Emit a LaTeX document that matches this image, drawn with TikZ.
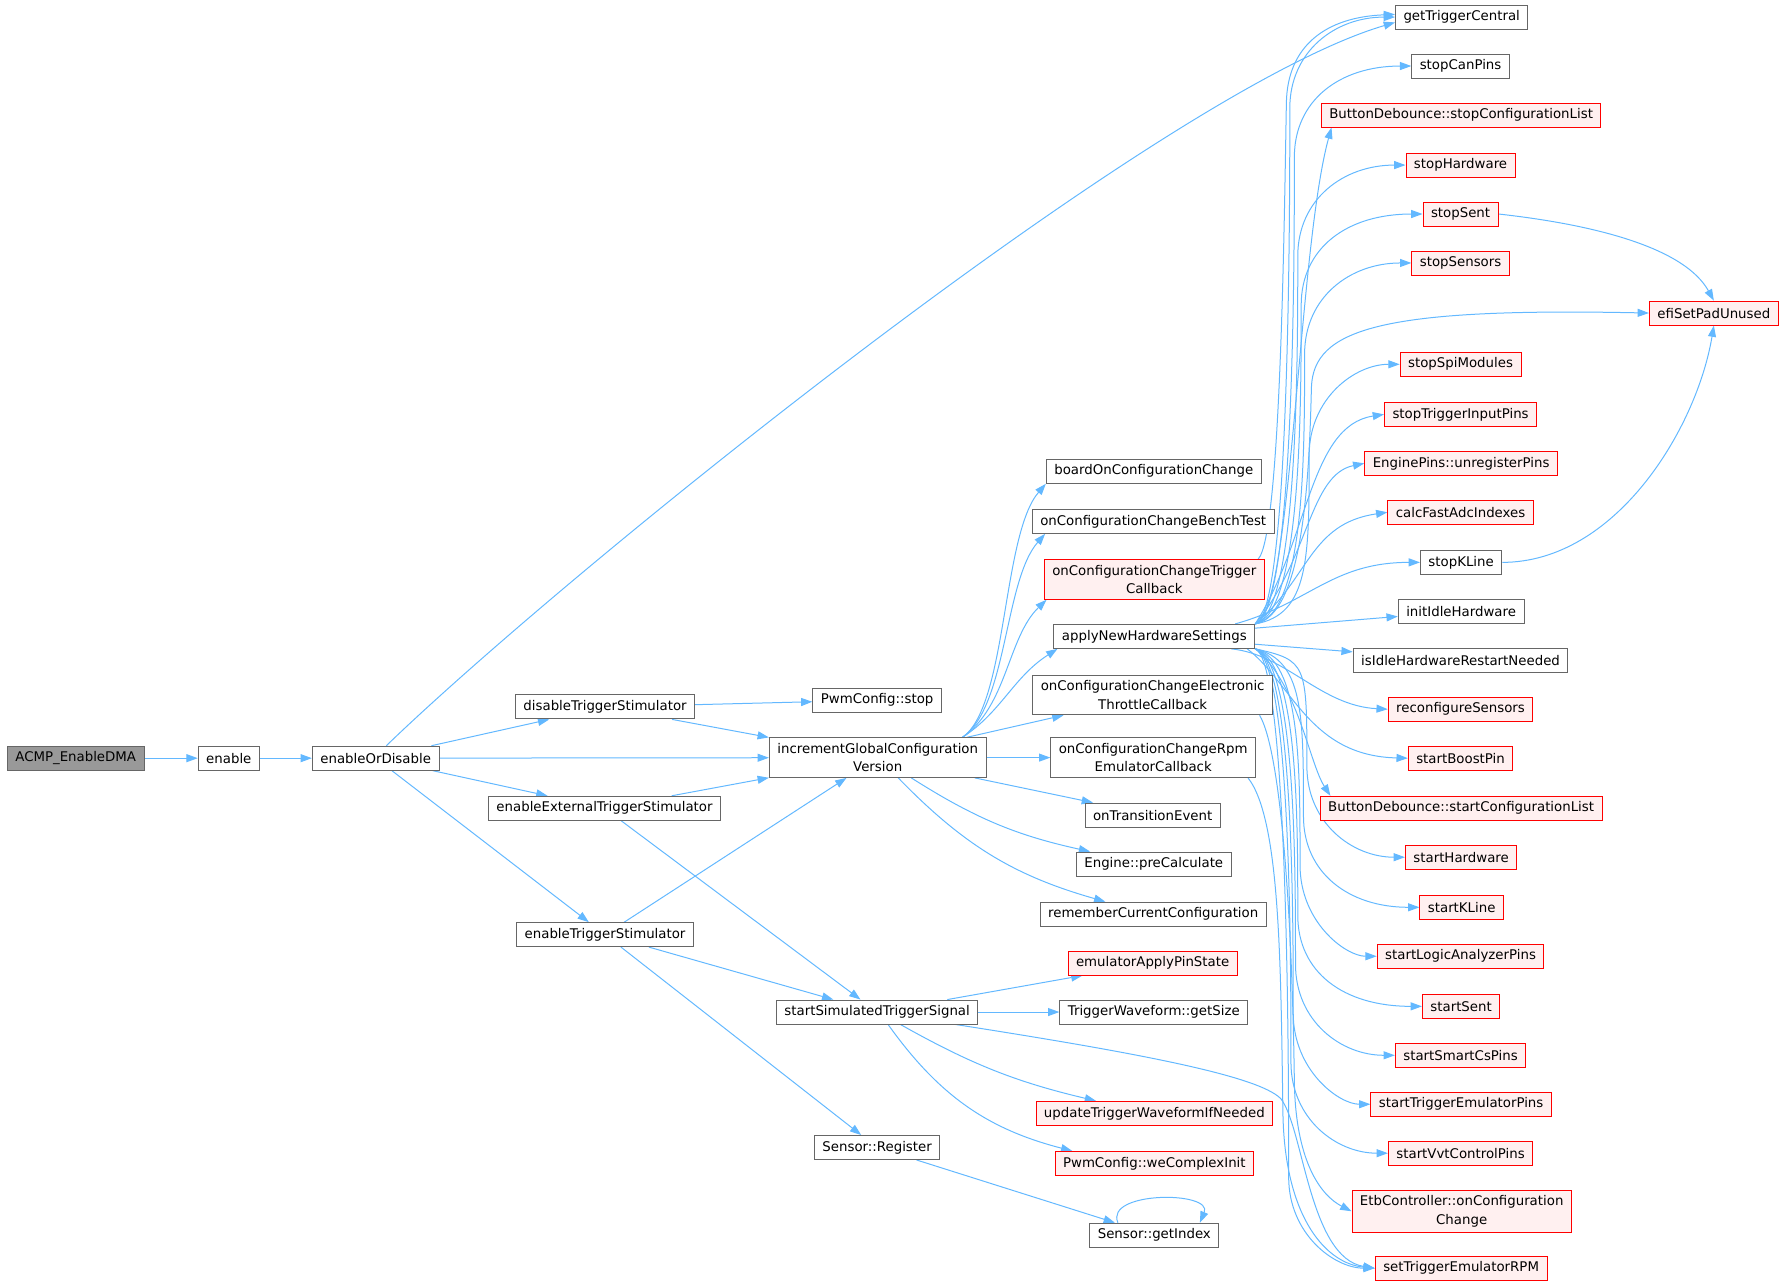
\documentclass[tikz,border=0pt]{standalone}
\usepackage{fontspec}
\setmainfont{DejaVu Sans}
\usetikzlibrary{arrows.meta,calc,backgrounds}
\definecolor{edgeblue}{RGB}{99,184,255}
\definecolor{nodegray}{RGB}{102,102,102}
\definecolor{rootgray}{RGB}{153,153,153}
\definecolor{redfill}{RGB}{255,240,240}

\begin{document}
\begin{tikzpicture}[
  x=0.854pt, y=-0.854pt,
  fn/.style={
    rectangle,
    draw=nodegray,
    fill=white,
    line width=0.7pt,
    inner xsep=6pt,
    inner ysep=4pt,
    minimum height=18pt,
    align=center,
    font=\fontsize{10}{14}\selectfont
  },
  fnred/.style={fn, draw=red, fill=redfill},
  fnroot/.style={fn, fill=rootgray},
  call/.style={draw=edgeblue, line width=0.75pt, -{Triangle[length=8.5pt,width=6pt]}}]
  \useasboundingbox (0,0) rectangle (1568,1131);
  % callers
  \node[fnroot] (acmp) at (66.5,666) {ACMP\_EnableDMA};
  \node[fn] (enable) at (201,666) {enable};
  \node[fn] (eod) at (330,666) {enableOrDisable};
  \node[fn] (dts) at (531.5,621) {disableTriggerStimulator};
  \node[fn] (eets) at (531,710) {enableExternalTriggerStimulator};
  \node[fn] (ets) at (531.5,821) {enableTriggerStimulator};
  \node[fn] (pwmstop) at (770.5,615) {PwmConfig::stop};
  \node[fn] (igcv) at (771,665.5) {incrementGlobalConfiguration\\Version};
  \node[fn] (sstsig) at (770.5,889) {startSimulatedTriggerSignal};
  \node[fn] (sreg) at (770.5,1008) {Sensor::Register};
  % second level
  \node[fn] (boardocc) at (1013.5,414) {boardOnConfigurationChange};
  \node[fn] (occbench) at (1013,458) {onConfigurationChangeBenchTest};
  \node[fnred] (occtrig) at (1014,509) {onConfigurationChangeTrigger\\Callback};
  \node[fn] (anhs) at (1014,559) {applyNewHardwareSettings};
  \node[fn] (occetc) at (1012.5,610.5) {onConfigurationChangeElectronic\\ThrottleCallback};
  \node[fn] (occrpm) at (1013,665.5) {onConfigurationChangeRpm\\EmulatorCallback};
  \node[fn] (ontrans) at (1012.5,716) {onTransitionEvent};
  \node[fn] (precalc) at (1013.5,759) {Engine::preCalculate};
  \node[fn] (rememb) at (1013,803) {rememberCurrentConfiguration};
  \node[fnred] (emuapply) at (1012.5,846) {emulatorApplyPinState};
  \node[fn] (twsize) at (1013.5,889) {TriggerWaveform::getSize};
  \node[fnred] (utwin) at (1014,978) {updateTriggerWaveformIfNeeded};
  \node[fnred] (wecinit) at (1014,1022) {PwmConfig::weComplexInit};
  \node[fn] (sgidx) at (1014,1085) {Sensor::getIndex};
  % hardware settings callees
  \node[fn] (gtc) at (1284,15) {getTriggerCentral};
  \node[fn] (scp) at (1283,58) {stopCanPins};
  \node[fnred] (bdstop) at (1283.5,101) {ButtonDebounce::stopConfigurationList};
  \node[fnred] (sthw) at (1283,145) {stopHardware};
  \node[fnred] (ssent) at (1283,188) {stopSent};
  \node[fnred] (ssens) at (1283,231) {stopSensors};
  \node[fnred] (sspi) at (1283,320) {stopSpiModules};
  \node[fnred] (stip) at (1283,364) {stopTriggerInputPins};
  \node[fnred] (epu) at (1283.5,407) {EnginePins::unregisterPins};
  \node[fnred] (cfai) at (1283,450) {calcFastAdcIndexes};
  \node[fn] (skl) at (1283.5,494) {stopKLine};
  \node[fn] (iih) at (1283.5,537) {initIdleHardware};
  \node[fn] (iihrn) at (1283,580) {isIdleHardwareRestartNeeded};
  \node[fnred] (recsens) at (1283,623) {reconfigureSensors};
  \node[fnred] (sbp) at (1283,666) {startBoostPin};
  \node[fnred] (bdstart) at (1283.5,710) {ButtonDebounce::startConfigurationList};
  \node[fnred] (sthwst) at (1283.5,753) {startHardware};
  \node[fnred] (sklst) at (1284,797) {startKLine};
  \node[fnred] (slap) at (1283,840) {startLogicAnalyzerPins};
  \node[fnred] (sstart) at (1283.5,884) {startSent};
  \node[fnred] (scsp) at (1283,927) {startSmartCsPins};
  \node[fnred] (stemp) at (1283.5,970) {startTriggerEmulatorPins};
  \node[fnred] (svvt) at (1283,1013) {startVvtControlPins};
  \node[fnred] (etbocc) at (1284,1064) {EtbController::onConfiguration\\Change};
  \node[fnred] (stemrpm) at (1283.5,1114) {setTriggerEmulatorRPM};
  \node[fnred] (efi) at (1505.5,275) {efiSetPadUnused};

  \begin{pgfonlayer}{background}
  % first levels
  \draw[call] (acmp) -- (enable);
  \draw[call] (enable) -- (eod);
  \draw[call] (eod) -- (dts);
  \draw[call] (eod) -- (igcv);
  \draw[call] (eod) -- (eets);
  \draw[call] (eod) -- (ets);
  \draw[call] ([xshift=8pt]eod.north) .. controls (500,500) and (1020,80) .. ([yshift=-4pt]gtc.west);
  \draw[call] (dts) -- (pwmstop);
  \draw[call] (dts) -- (igcv);
  \draw[call] (eets) -- (igcv);
  \draw[call] (eets) -- (sstsig);
  \draw[call] (ets) -- (igcv);
  \draw[call] (ets) -- (sstsig);
  \draw[call] (ets) -- (sreg);
  % configuration version
  \draw[call] ([xshift=-18pt]igcv.north east) .. controls (885,620) and (880,470) .. (boardocc.south west);
  \draw[call] ([xshift=-18pt]igcv.north east) .. controls (885,620) and (882,510) .. ([xshift=10pt]occbench.south west);
  \draw[call] ([xshift=-18pt]igcv.north east) .. controls (885,620) and (885,560) .. ([xshift=2pt]occtrig.south west);
  \draw[call] ([xshift=-18pt]igcv.north east) .. controls (880,625) and (890,595) .. ([xshift=3pt]anhs.south west);
  \draw[call] (igcv) -- (occetc);
  \draw[call] (igcv) -- (occrpm);
  \draw[call] (igcv) -- (ontrans);
  \draw[call] (igcv) to[bend right=10] (precalc);
  \draw[call] (igcv) to[bend right=15] (rememb);
  \draw[call] ([xshift=-5pt]occtrig.north east) .. controls (1125,470) and (1128,200) .. (1130,90) .. controls (1131,40) and (1165,15) .. ([yshift=2pt]gtc.west);
  \draw[call] ([xshift=-10pt]occetc.south east) .. controls (1125,660) and (1135,800) .. (1137,950) .. controls (1138,1020) and (1160,1050) .. (etbocc.west);
  \draw[call] ([xshift=-6pt]occrpm.south east) .. controls (1125,720) and (1125,850) .. (1127,980) .. controls (1129,1070) and (1165,1110) .. (stemrpm.west);
  % simulated trigger
  \draw[call] (sstsig) -- (emuapply);
  \draw[call] (sstsig) -- (twsize);
  \draw[call] (sstsig) to[bend right=8] (utwin);
  \draw[call] (sstsig) to[bend right=20] (wecinit);
  \draw[call] ([xshift=-17pt]sstsig.south east) .. controls (1000,925) and (1105,945) .. (1125,965) .. controls (1145,990) and (1150,1105) .. (stemrpm.west);
  \draw[call] (sreg) -- (sgidx);
  \draw[call] ($(sgidx.north)+(-32,0)$) .. controls +(-12,-28) and +(12,-28) .. ($(sgidx.north)+(40,0)$);
  % hardware settings
  \foreach \t/\y/\lx in {gtc/15/1133, scp/58/1137, sthw/145/1140, ssent/188/1143, ssens/231/1146, sspi/320/1150}
    \draw[call] (anhs.north east) .. controls (\lx,540) and (\lx,{\y+170}) .. (\lx,{\y+80}) .. controls (\lx,{\y+30}) and ({\lx+40},\y) .. (\t.west);
  \foreach \t/\y in {stip/364, epu/407, cfai/450}
    \draw[call] (anhs.north east) .. controls (1150,{548-0.4*(548-\y)}) and (1150,\y+10) .. (\t.west);
  \draw[call] (anhs.north east) .. controls (1135,540) and (1140,220) .. ([xshift=8pt]bdstop.south west);
  \draw[call] (anhs.north east) .. controls (1145,540) and (1150,420) .. (1152,340) .. controls (1154,290) and (1210,270) .. (efi.west);
  \draw[call] ([xshift=-15pt]anhs.north east) .. controls (1150,530) and (1170,494) .. (skl.west);
  \draw[call] (anhs) -- (iih);
  \draw[call] (anhs) -- (iihrn);
  \draw[call] ([xshift=-18pt]anhs.south east) .. controls (1130,575) and (1160,620) .. (recsens.west);
  \draw[call] ([xshift=-6pt]anhs.south east) .. controls (1135,600) and (1150,664) .. (sbp.west);
  \draw[call] (anhs.south east) .. controls (1140,600) and (1150,670) .. ([xshift=8pt]bdstart.north west);
  \foreach \t/\y/\lx in {sthwst/753/1148, sklst/797/1145, slap/840/1142, sstart/884/1140, scsp/927/1138, stemp/970/1136, svvt/1013/1134, stemrpm/1114/1132}
    \draw[call] (anhs.south east) .. controls (\lx,580) and (\lx,{\y-170}) .. (\lx,{\y-80}) .. controls (\lx,{\y-30}) and ({\lx+40},\y) .. (\t.west);
  \draw[call] (ssent.east) .. controls +(90,10) and +(-25,-45) .. (efi.north);
  \draw[call] (skl.east) .. controls +(100,0) and +(-15,90) .. (efi.south);
  \end{pgfonlayer}
\end{tikzpicture}
\end{document}
